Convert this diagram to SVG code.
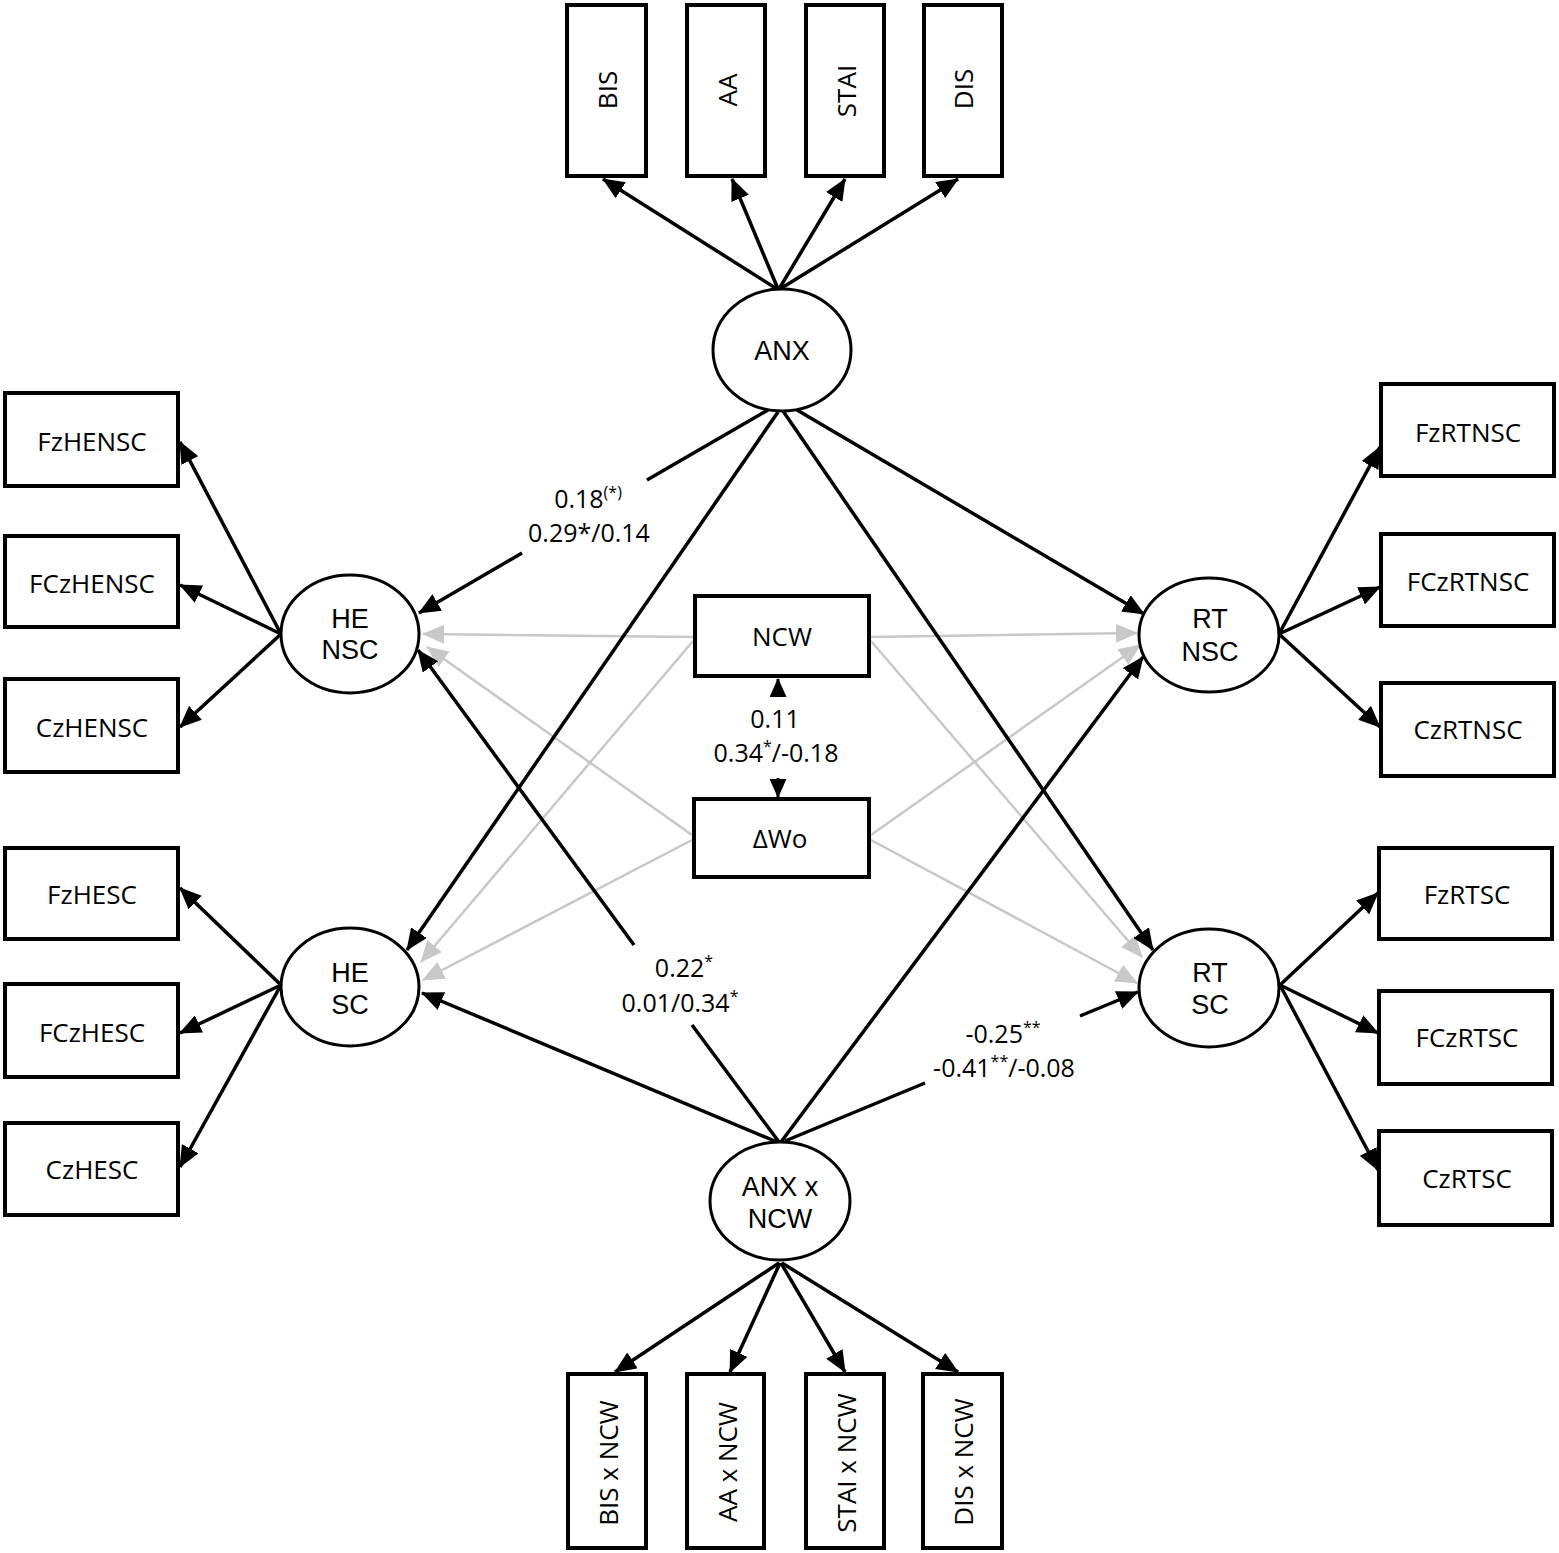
<svg xmlns="http://www.w3.org/2000/svg" width="1559" height="1553" viewBox="0 0 1559 1553">
<style>
.box{fill:#fff;stroke:#000;stroke-width:4}
.ell{fill:#fff;stroke:#000;stroke-width:3}
.bt{font-family:"Open Sans","Liberation Sans",sans-serif;font-size:26px;fill:#000;text-anchor:middle}
.et{font-family:"Liberation Sans",Arial,sans-serif;font-size:27px;fill:#000;text-anchor:middle}
.lt{font-family:"Open Sans","Liberation Sans",sans-serif;font-size:25px;fill:#000;text-anchor:middle}
.sup{font-size:16px}
.k{fill:none;stroke:#000;stroke-width:3.5;marker-end:url(#ak)}
.g{fill:none;stroke:#c8c8c8;stroke-width:2.5;marker-end:url(#ag)}
</style>
<defs>
<marker id="ak" markerUnits="userSpaceOnUse" viewBox="0 0 22 19" markerWidth="22" markerHeight="19" refX="21" refY="9.5" orient="auto"><path d="M0,0 L22,9.5 L0,19 z" fill="#000"/></marker>
<marker id="ag" markerUnits="userSpaceOnUse" viewBox="0 0 22 19" markerWidth="22" markerHeight="19" refX="21" refY="9.5" orient="auto"><path d="M0,0 L22,9.5 L0,19 z" fill="#c8c8c8"/></marker>
<marker id="ak2" markerUnits="userSpaceOnUse" viewBox="0 0 19 17" markerWidth="19" markerHeight="17" refX="18" refY="8.5" orient="auto-start-reverse"><path d="M0,0 L19,8.5 L0,17 z" fill="#000"/></marker>
</defs>
<rect width="1559" height="1553" fill="#fff"/>

<g id="connectors">
<path class="g" d="M693,637 L423,634"/>
<path class="g" d="M692,835 L427,647"/>
<path class="g" d="M693,641 L421,962"/>
<path class="g" d="M692,840 L423,980"/>
<path class="g" d="M871,637 L1137,633"/>
<path class="g" d="M871,835 L1140,645"/>
<path class="g" d="M871,641 L1142,957"/>
<path class="g" d="M871,840 L1137,983"/>
<path class="k" d="M777,289 L603,179"/>
<path class="k" d="M778,289 L732,179"/>
<path class="k" d="M779,289 L845,179"/>
<path class="k" d="M780,289 L958,179"/>
<path class="k" d="M779,1263 L615,1372"/>
<path class="k" d="M780,1263 L730,1372"/>
<path class="k" d="M781,1263 L845,1372"/>
<path class="k" d="M782,1263 L958,1372"/>
<path class="k" d="M768,410 L647,480 M522,553 L419,613"/>
<path class="k" d="M778,412 L407,950"/>
<path class="k" d="M797,410 L1144,614"/>
<path class="k" d="M783,411 L1153,950"/>
<path class="k" d="M779,1142 L692,1025 M634,945 L418,650"/>
<path class="k" d="M777,1142 L422,993"/>
<path class="k" d="M781,1142 L1143,657"/>
<path class="k" d="M785,1141 L925,1083 M1080,1016 L1138,992"/>
<path class="k" d="M281,634 L180,442"/>
<path class="k" d="M281,634 L180,585"/>
<path class="k" d="M281,634 L180,727"/>
<path class="k" d="M281,985 L180,888"/>
<path class="k" d="M281,985 L180,1033"/>
<path class="k" d="M281,985 L180,1167"/>
<path class="k" d="M1279,634 L1380,447"/>
<path class="k" d="M1279,634 L1380,587"/>
<path class="k" d="M1279,634 L1380,727"/>
<path class="k" d="M1280,985 L1378,893"/>
<path class="k" d="M1280,985 L1378,1033"/>
<path class="k" d="M1280,985 L1378,1170"/>
<path d="M778,679 L778,697 M778,778 L778,797" fill="none" stroke="#000" stroke-width="3" marker-start="url(#ak2)" marker-end="url(#ak2)"/>
<text class="lt" x="588" y="508">0.18<tspan class="sup" dy="-10">(*)</tspan></text>
<text class="lt" x="589" y="542">0.29*/0.14</text>
<text class="lt" x="775" y="728">0.11</text>
<text class="lt" x="776" y="762">0.34<tspan class="sup" dy="-10">*</tspan><tspan dy="10">/-0.18</tspan></text>
<text class="lt" x="684" y="977">0.22<tspan class="sup" dy="-10">*</tspan></text>
<text class="lt" x="680" y="1012">0.01/0.34<tspan class="sup" dy="-10">*</tspan></text>
<text class="lt" x="1003" y="1043">-0.25<tspan class="sup" dy="-10">**</tspan></text>
<text class="lt" x="1004" y="1077">-0.41<tspan class="sup" dy="-10">**</tspan><tspan dy="10">/-0.08</tspan></text>
</g>

<g id="BIS"><rect class="box" x="567" y="5" width="79" height="171"/><text class="bt" transform="translate(617,90) rotate(-90)">BIS</text></g>
<g id="AA"><rect class="box" x="687" y="5" width="78" height="171"/><text class="bt" transform="translate(737,90) rotate(-90)">AA</text></g>
<g id="STAI"><rect class="box" x="806" y="5" width="78" height="171"/><text class="bt" transform="translate(856,91) rotate(-90)">STAI</text></g>
<g id="DIS"><rect class="box" x="924" y="5" width="78" height="171"/><text class="bt" transform="translate(973,89) rotate(-90)">DIS</text></g>

<g id="BISxNCW"><rect class="box" x="568" y="1374" width="78" height="174"/><text class="bt" transform="translate(618,1463) rotate(-90)">BIS x NCW</text></g>
<g id="AAxNCW"><rect class="box" x="687" y="1374" width="77" height="174"/><text class="bt" transform="translate(737,1462) rotate(-90)">AA x NCW</text></g>
<g id="STAIxNCW"><rect class="box" x="806" y="1374" width="78" height="174"/><text class="bt" transform="translate(856,1463) rotate(-90)">STAI x NCW</text></g>
<g id="DISxNCW"><rect class="box" x="923" y="1374" width="79" height="174"/><text class="bt" transform="translate(973,1462) rotate(-90)">DIS x NCW</text></g>

<g id="ANX"><ellipse class="ell" cx="782" cy="350" rx="69" ry="61"/><text class="et" x="782" y="360">ANX</text></g>
<g id="ANXxNCW"><ellipse class="ell" cx="780" cy="1201" rx="70" ry="59"/><text class="et" x="780" y="1196">ANX x</text><text class="et" x="780" y="1228">NCW</text></g>

<g id="HENSC"><ellipse class="ell" cx="350" cy="634" rx="69" ry="59"/><text class="et" x="350" y="628">HE</text><text class="et" x="350" y="659">NSC</text></g>
<g id="HESC"><ellipse class="ell" cx="350" cy="987" rx="69" ry="59"/><text class="et" x="350" y="982">HE</text><text class="et" x="350" y="1014">SC</text></g>
<g id="RTNSC"><ellipse class="ell" cx="1209" cy="635" rx="70" ry="57"/><text class="et" x="1210" y="628">RT</text><text class="et" x="1210" y="661">NSC</text></g>
<g id="RTSC"><ellipse class="ell" cx="1209" cy="988" rx="70" ry="59"/><text class="et" x="1210" y="982">RT</text><text class="et" x="1210" y="1014">SC</text></g>

<g id="NCW"><rect class="box" x="695" y="596" width="174" height="80"/><text class="bt" x="782" y="646">NCW</text></g>
<g id="dWo"><rect class="box" x="694" y="799" width="175" height="78"/><text class="bt" x="780" y="848">ΔWo</text></g>

<g id="FzHENSC"><rect class="box" x="5" y="393" width="173" height="93"/><text class="bt" x="92" y="451">FzHENSC</text></g>
<g id="FCzHENSC"><rect class="box" x="5" y="536" width="173" height="91"/><text class="bt" x="92" y="593">FCzHENSC</text></g>
<g id="CzHENSC"><rect class="box" x="5" y="679" width="173" height="93"/><text class="bt" x="92" y="737">CzHENSC</text></g>
<g id="FzHESC"><rect class="box" x="5" y="848" width="173" height="91"/><text class="bt" x="92" y="904">FzHESC</text></g>
<g id="FCzHESC"><rect class="box" x="5" y="984" width="173" height="93"/><text class="bt" x="92" y="1042">FCzHESC</text></g>
<g id="CzHESC"><rect class="box" x="5" y="1123" width="173" height="92"/><text class="bt" x="92" y="1179">CzHESC</text></g>

<g id="FzRTNSC"><rect class="box" x="1381" y="384" width="173" height="92"/><text class="bt" x="1468" y="442">FzRTNSC</text></g>
<g id="FCzRTNSC"><rect class="box" x="1381" y="534" width="173" height="92"/><text class="bt" x="1468" y="591">FCzRTNSC</text></g>
<g id="CzRTNSC"><rect class="box" x="1381" y="683" width="173" height="93"/><text class="bt" x="1468" y="739">CzRTNSC</text></g>
<g id="FzRTSC"><rect class="box" x="1379" y="848" width="173" height="91"/><text class="bt" x="1467" y="904">FzRTSC</text></g>
<g id="FCzRTSC"><rect class="box" x="1379" y="991" width="173" height="93"/><text class="bt" x="1467" y="1047">FCzRTSC</text></g>
<g id="CzRTSC"><rect class="box" x="1379" y="1131" width="173" height="94"/><text class="bt" x="1467" y="1188">CzRTSC</text></g>
</svg>
